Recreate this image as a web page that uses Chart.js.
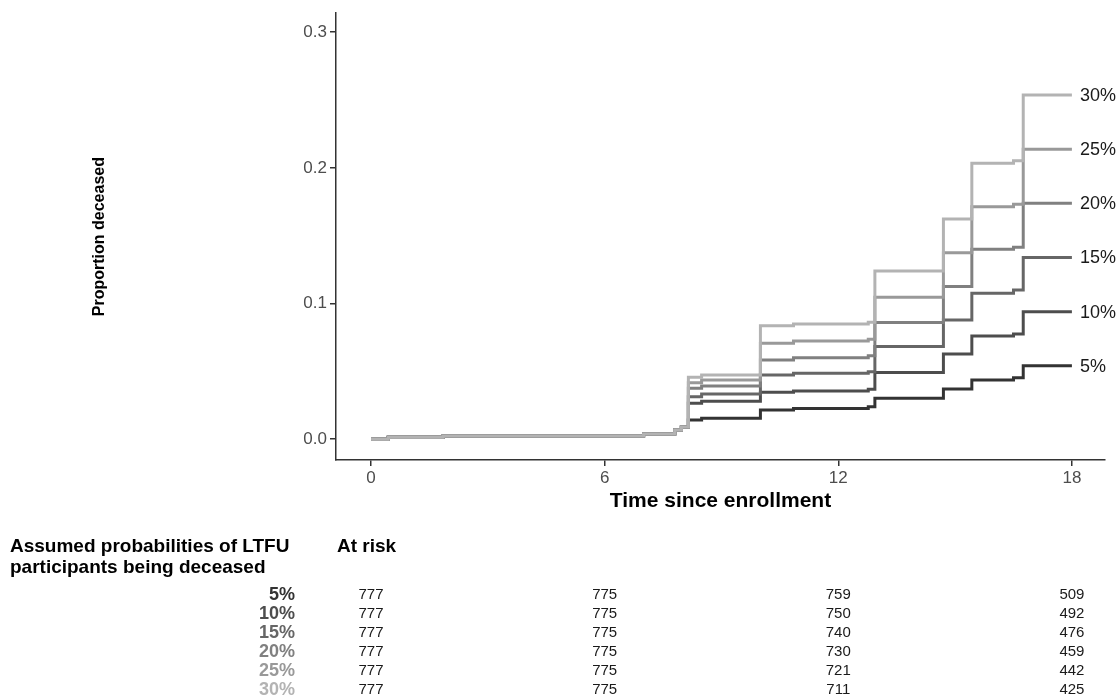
<!DOCTYPE html>
<html>
<head>
<meta charset="utf-8">
<script src="https://cdn.jsdelivr.net/npm/chart.js@4.4.1/dist/chart.umd.min.js"></script>
<style>
  body { margin: 0; background: #fff; }
  canvas { display: block; }
</style>
</head>
<body>
<canvas id="kmChart" width="1119" height="697"></canvas>
<script>
// event times (months) and cumulative proportion deceased per scenario
const times = [0, 0.44, 1.85, 7.0, 7.8, 7.97, 8.15, 8.49, 10.0, 10.85, 12.77, 12.94, 14.7, 15.43, 16.5, 16.75, 18.0];
const s5  = [0, 0.0015, 0.0024, 0.0039, 0.0068, 0.009, 0.0142, 0.0155, 0.0216, 0.0226, 0.0240, 0.0302, 0.0371, 0.0437, 0.0454, 0.0542, 0.0542];
const s10 = [0, 0.0015, 0.0024, 0.0039, 0.0068, 0.009, 0.0265, 0.0280, 0.0346, 0.0356, 0.0368, 0.0491, 0.0629, 0.0761, 0.0776, 0.0940, 0.0940];
const s15 = [0, 0.0015, 0.0024, 0.0039, 0.0068, 0.009, 0.0314, 0.0334, 0.0474, 0.0486, 0.0498, 0.0683, 0.0879, 0.1076, 0.1100, 0.1340, 0.1340];
const s20 = [0, 0.0015, 0.0024, 0.0039, 0.0068, 0.009, 0.0376, 0.0393, 0.0584, 0.0601, 0.0616, 0.0860, 0.1125, 0.1400, 0.1415, 0.1739, 0.1739];
const s25 = [0, 0.0015, 0.0024, 0.0039, 0.0068, 0.009, 0.0417, 0.0437, 0.0707, 0.0724, 0.0737, 0.1046, 0.1375, 0.1714, 0.1732, 0.2137, 0.2137];
const s30 = [0, 0.0015, 0.0024, 0.0039, 0.0068, 0.009, 0.0457, 0.0474, 0.0837, 0.0850, 0.0862, 0.1240, 0.1623, 0.2034, 0.2053, 0.2537, 0.2537];

const scenarios = ['5%', '10%', '15%', '20%', '25%', '30%'];
const seriesValues = [s5, s10, s15, s20, s25, s30];
const lineColors = ['#333333', '#4d4d4d', '#666666', '#808080', '#999999', '#b3b3b3'];

const xTicks = [0, 6, 12, 18];
const yTicks = [0, 0.1, 0.2, 0.3];

// numbers at risk, one row per scenario, one column per x tick
const atRisk5  = [777, 775, 759, 509];
const atRisk10 = [777, 775, 750, 492];
const atRisk15 = [777, 775, 740, 476];
const atRisk20 = [777, 775, 730, 459];
const atRisk25 = [777, 775, 721, 442];
const atRisk30 = [777, 775, 711, 425];
const atRiskRows = [atRisk5, atRisk10, atRisk15, atRisk20, atRisk25, atRisk30];

const FONT = '"Liberation Sans", Arial, Helvetica, sans-serif';

// end labels, axis titles and the at-risk table
const annotations = {
    id: 'annotations',
    afterDraw(chart) {
        const ctx = chart.ctx;
        const xs = chart.scales.x;
        const ys = chart.scales.y;
        const area = chart.chartArea;
        ctx.save();

        // labels at the end of each curve
        ctx.font = '18px ' + FONT;
        ctx.fillStyle = '#1a1a1a';
        ctx.textAlign = 'left';
        ctx.textBaseline = 'middle';
        seriesValues.forEach((vals, i) => {
            const last = vals[vals.length - 1];
            ctx.fillText(scenarios[i], xs.getPixelForValue(times[times.length - 1]) + 8, ys.getPixelForValue(last) + 1);
        });

        // x axis title
        ctx.font = 'bold 21px ' + FONT;
        ctx.fillStyle = '#000';
        ctx.textAlign = 'center';
        ctx.textBaseline = 'alphabetic';
        ctx.fillText('Time since enrollment', (area.left + area.right) / 2, 507);

        // y axis title
        ctx.save();
        ctx.translate(100, (area.top + area.bottom) / 2);
        ctx.rotate(-Math.PI / 2);
        ctx.font = 'bold 16px ' + FONT;
        ctx.textBaseline = 'middle';
        ctx.fillText('Proportion deceased', 0, 0);
        ctx.restore();

        // table headers
        ctx.font = 'bold 19px ' + FONT;
        ctx.textAlign = 'left';
        ctx.fillText('Assumed probabilities of LTFU', 10, 552);
        ctx.fillText('participants being deceased', 10, 573);
        ctx.fillText('At risk', 337, 552);

        // table rows
        ctx.textBaseline = 'middle';
        atRiskRows.forEach((row, i) => {
            const y = 595 + i * 19;
            ctx.font = 'bold 18px ' + FONT;
            ctx.fillStyle = lineColors[i];
            ctx.textAlign = 'right';
            ctx.fillText(scenarios[i], 295, y);
            ctx.font = '15px ' + FONT;
            ctx.fillStyle = '#1a1a1a';
            ctx.textAlign = 'center';
            row.forEach((n, j) => ctx.fillText(String(n), xs.getPixelForValue(xTicks[j]), y));
        });
        ctx.restore();
    }
};

const datasets = scenarios.map((name, i) => ({
    label: name,
    data: times.map((t, k) => ({ x: t, y: seriesValues[i][k] })),
    borderColor: lineColors[i],
    borderWidth: 3,
    stepped: true,
    pointRadius: 0,
    fill: false,
    order: scenarios.length - i // lightest curve drawn on top
}));

const axisLine = { display: true, color: '#333', width: 1.5 };
const tickMarks = { display: true, drawOnChartArea: false, drawTicks: true, tickLength: 6, color: '#333', lineWidth: 1.5 };

new Chart(document.getElementById('kmChart'), {
    type: 'line',
    data: { datasets },
    options: {
        responsive: false,
        animation: false,
        devicePixelRatio: 1,
        layout: { padding: { top: 13, right: 14, left: 0, bottom: 0 } },
        plugins: { legend: { display: false }, tooltip: { enabled: false } },
        scales: {
            x: {
                type: 'linear',
                min: -0.9,
                max: 18.85,
                afterFit: s => { s.height = 237; },
                afterBuildTicks: s => { s.ticks = xTicks.map(v => ({ value: v })); },
                ticks: { font: { family: FONT, size: 17 }, color: '#4d4d4d', padding: 2, maxRotation: 0, autoSkip: false },
                grid: tickMarks,
                border: axisLine
            },
            y: {
                type: 'linear',
                min: -0.0153,
                max: 0.314,
                afterFit: s => { s.width = 336; },
                afterBuildTicks: s => { s.ticks = yTicks.map(v => ({ value: v })); },
                ticks: { font: { family: FONT, size: 17 }, color: '#4d4d4d', padding: 3, callback: v => v.toFixed(1) },
                grid: tickMarks,
                border: axisLine
            }
        }
    },
    plugins: [annotations]
});
</script>
</body>
</html>
